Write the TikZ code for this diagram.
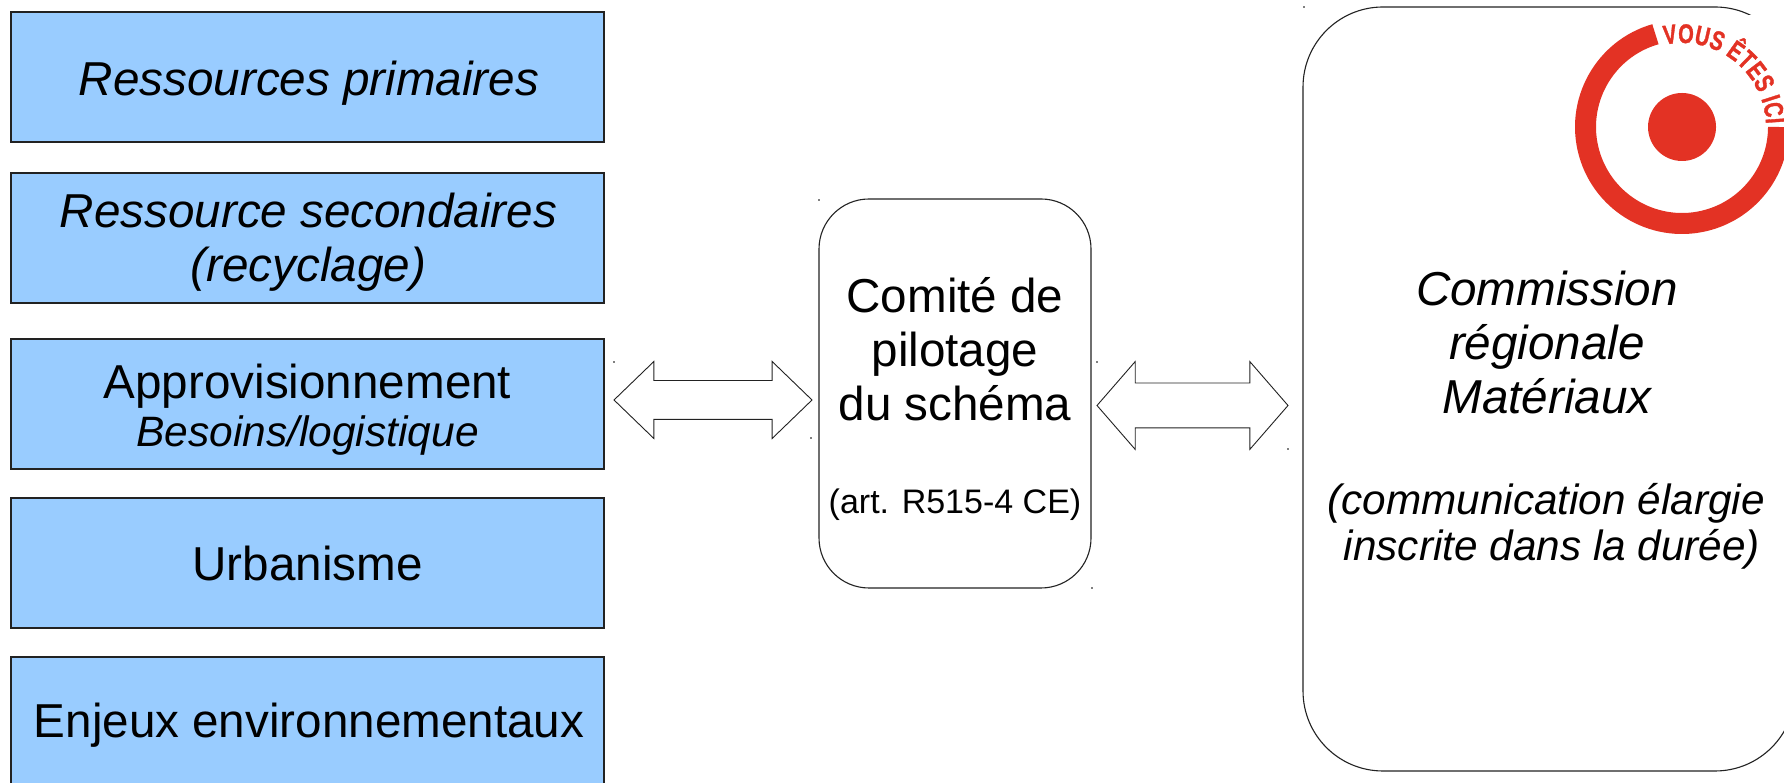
\documentclass[tikz,border=0pt]{standalone}
\usepackage{fontspec}
\setmainfont{Liberation Sans}
\newfontfamily\logofont[FakeStretch=0.74,FakeBold=1.2]{Liberation Sans Bold}
\usetikzlibrary{shapes.arrows,decorations.text}
\definecolor{boxblue}{HTML}{99CCFF}
\definecolor{logored}{HTML}{E33224}
\definecolor{edge}{HTML}{222222}
\tikzset{
  bluebox/.style={draw=edge,line width=1.1pt,fill=boxblue,minimum width=593pt,minimum height=130pt,inner sep=0pt},
  roundbox/.style={draw=edge,line width=1.1pt,fill=white,rounded corners=#1,inner sep=0pt},
  label/.style={inner sep=0pt,align=center,font=\fontsize{47.6}{54}\selectfont},
  twoway/.style={draw=edge,line width=0.9pt,fill=white,double arrow,double arrow head indent=0pt,inner xsep=0pt,outer sep=0pt},
  speck/.style={fill=gray,inner sep=0pt,minimum size=1.5pt}
}
\begin{document}
\begin{tikzpicture}[x=1pt,y=1pt]
\useasboundingbox (0,0) rectangle (1784,783);
\fill[white] (0,0) rectangle (1784,783);
% left column
\node[bluebox] (prim) at (307.5,706) {};
\node[bluebox] (sec) at (307.5,545) {};
\node[bluebox] (appro) at (307.5,379) {};
\node[bluebox] (urba) at (307.5,220) {};
\node[bluebox] (env) at (307.5,61) {};
\node[label] (primtxt) at ([xshift=1.5pt,yshift=-6pt]prim.center) {\itshape Ressources primaires};
\node[label] (sectxt) at ([xshift=1pt,yshift=-4.5pt]sec.center) {\itshape Ressource secondaires\\\itshape (recyclage)};
\node[label] (approtxt) at ([yshift=-6pt]appro.center) {Approvisionnement\\[-6pt]{\fontsize{42.5}{48}\selectfont\itshape Besoins/logistique}};
\node[label] (urbatxt) at (urba.center) {Urbanisme};
\node[label] (envtxt) at ([xshift=1.5pt,yshift=-3pt]env.center) {Enjeux environnementaux};
% committee
\node[roundbox=50pt,minimum width=272pt,minimum height=389pt] (copil) at (955,389.5) {};
\node[label] (copiltxt) at (955,434) {Comité de\\pilotage\\du schéma};
\node[label,font=\fontsize{34}{38}\selectfont] (art) at (955,278) {(art. R515-4 CE)};
% commission
\node[roundbox=80pt,minimum width=492pt,minimum height=764pt] (comm) at (1549,394) {};
\node[label,font=\fontsize{47.6}{54}\selectfont\itshape] (commtxt) at (1547,441) {Commission\\régionale\\Matériaux};
\node[label,font=\fontsize{42.3}{46}\selectfont\itshape] (commsub) at (1546,257) {(communication élargie\\\hspace*{12pt}inscrite dans la durée)};
% block arrows
\node[twoway,minimum height=198pt,inner ysep=19pt,double arrow head extend=19pt,double arrow tip angle=88] (a1) at (713,383) {};
\node[twoway,minimum height=191pt,inner ysep=22pt,double arrow head extend=21.5pt,double arrow tip angle=98] (a2) at (1192.5,377.5) {};
% logo
\fill[white] (1560,543) rectangle (1784,768);
\coordinate (logo) at (1682,656);
\draw[logored,line width=21pt] (logo) ++(106:96.5) arc[start angle=106,end angle=360,radius=96.5];
\fill[logored] (logo) circle[radius=34];
\path[decorate,decoration={text along path,text align={fit to path},text={|\logofont\fontsize{27}{27}\selectfont\color{logored}|VOUS ÊTES ICI}}]
  (logo) ++(102:84) arc[start angle=102,end angle=2,radius=84];
% selection specks
\foreach \p in {(819,583),(1092,195),(614,421),(811,345),(1097,421),(1288,334),(1304,776)}
  \node[speck] at \p {};
\end{tikzpicture}
\end{document}
